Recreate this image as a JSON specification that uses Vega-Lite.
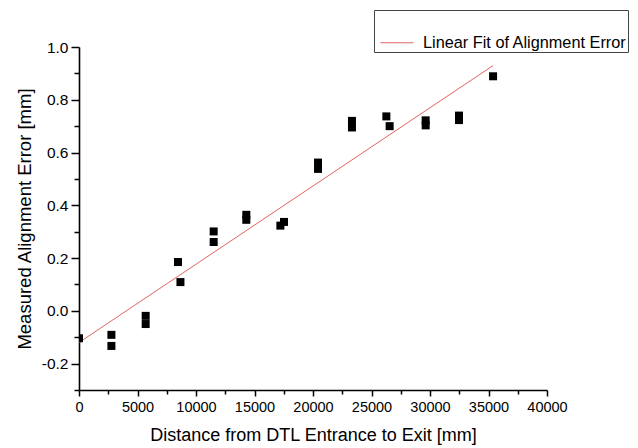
{
  "$schema": "https://vega.github.io/schema/vega-lite/v6.json",
  "autosize": {"type": "none"},
  "width": 468,
  "height": 343,
  "padding": {"left": 79, "top": 47, "right": 91, "bottom": 58},
  "background": "white",
  "config": {
    "view": {"stroke": null},
    "font": "Liberation Sans",
    "axis": {
      "domainColor": "black",
      "domainWidth": 1.6,
      "tickColor": "black",
      "tickWidth": 1.5,
      "labelColor": "black",
      "labelFont": "Liberation Sans",
      "titleFont": "Liberation Sans",
      "titleFontWeight": "normal",
      "titleColor": "black",
      "grid": false
    }
  },
  "datasets": {
    "measured": [
      {"distance": 0, "error": -0.104},
      {"distance": 2770, "error": -0.091},
      {"distance": 2770, "error": -0.133},
      {"distance": 5700, "error": -0.019},
      {"distance": 5700, "error": -0.050},
      {"distance": 8460, "error": 0.185},
      {"distance": 8670, "error": 0.109},
      {"distance": 11510, "error": 0.301},
      {"distance": 11510, "error": 0.261},
      {"distance": 14300, "error": 0.364},
      {"distance": 14300, "error": 0.345},
      {"distance": 17210, "error": 0.323},
      {"distance": 17520, "error": 0.337},
      {"distance": 20430, "error": 0.562},
      {"distance": 20430, "error": 0.538},
      {"distance": 23330, "error": 0.720},
      {"distance": 23330, "error": 0.695},
      {"distance": 26270, "error": 0.737},
      {"distance": 26550, "error": 0.700},
      {"distance": 29630, "error": 0.722},
      {"distance": 29630, "error": 0.703},
      {"distance": 32480, "error": 0.740},
      {"distance": 32480, "error": 0.723},
      {"distance": 35390, "error": 0.889}
    ],
    "fit": [
      {"distance": 0, "error": -0.12, "series": "Linear Fit of Alignment Error"},
      {"distance": 35400, "error": 0.93, "series": "Linear Fit of Alignment Error"}
    ]
  },
  "encoding": {
    "x": {
      "field": "distance",
      "type": "quantitative",
      "scale": {"domain": [0, 40000], "nice": false, "zero": false},
      "axis": {
        "title": "Distance from DTL Entrance to Exit [mm]",
        "titleFontSize": 18,
        "labelFontSize": 14.5,
        "values": [0, 2500, 5000, 7500, 10000, 12500, 15000, 17500, 20000, 22500, 25000, 27500, 30000, 32500, 35000, 37500, 40000],
        "labelExpr": "datum.value % 5000 === 0 ? format(datum.value, 'd') : ''",
        "tickSize": {"condition": {"test": "datum.value % 5000 === 0", "value": 6}, "value": 4},
        "labelPadding": 4,
        "titlePadding": 13,
        "labelFlush": false,
        "labelOverlap": false
      }
    },
    "y": {
      "field": "error",
      "type": "quantitative",
      "scale": {"domain": [-0.3, 1.0], "nice": false, "zero": false},
      "axis": {
        "title": "Measured Alignment Error [mm]",
        "titleFontSize": 18.5,
        "labelFontSize": 15.5,
        "values": [-0.3, -0.2, -0.1, 0, 0.1, 0.2, 0.3, 0.4, 0.5, 0.6, 0.7, 0.8, 0.9, 1.0],
        "labelExpr": "abs(round(datum.value*5) - datum.value*5) < 1e-6 ? replace(format(datum.value, '.1f'), '\u2212', '-') : ''",
        "tickSize": {"condition": {"test": "abs(round(datum.value*5) - datum.value*5) < 1e-6", "value": 8}, "value": 5},
        "labelPadding": 3,
        "titlePadding": 7,
        "labelFlush": false,
        "labelOverlap": false
      }
    }
  },
  "layer": [
    {
      "data": {"name": "fit"},
      "mark": {"type": "line", "strokeWidth": 1, "clip": true},
      "encoding": {
        "color": {
          "field": "series",
          "type": "nominal",
          "scale": {"domain": ["Linear Fit of Alignment Error"], "range": ["#e06464"]},
          "legend": {
            "orient": "none",
            "legendX": 295,
            "legendY": -37,
            "title": "\u00a0",
            "titleFontSize": 5,
            "titlePadding": 1.5,
            "padding": 1,
            "strokeColor": "#444444",
            "fillColor": "white",
            "symbolType": "M-1,0.5H1",
            "symbolSize": 1089,
            "symbolStrokeWidth": 1,
            "symbolFillColor": "transparent",
            "symbolStrokeColor": "#e06464",
            "symbolOffset": 5,
            "labelOffset": 9,
            "labelBaseline": "top",
            "labelFont": "Liberation Sans",
            "labelFontSize": 16.3,
            "labelColor": "black",
            "labelLimit": 400
          }
        }
      }
    },
    {
      "data": {"name": "measured"},
      "mark": {"type": "point", "shape": "square", "filled": true, "color": "black", "opacity": 1, "size": 64, "clip": true}
    }
  ]
}
